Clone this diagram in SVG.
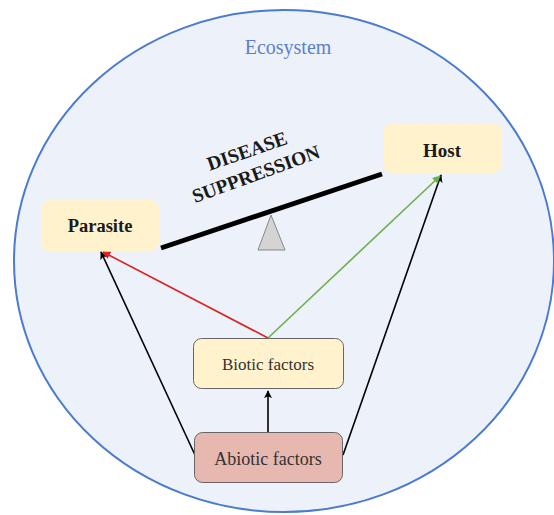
<svg xmlns="http://www.w3.org/2000/svg" width="554" height="515" viewBox="0 0 554 515">
<defs>
<style>
text{font-family:"Liberation Serif","DejaVu Serif",serif;text-anchor:middle;dominant-baseline:central}
.bold{font-weight:bold;fill:#1a1a1a}
.conn{fill:none;stroke-width:1.6}
</style>
<marker id="ab" viewBox="0 0 10 10" refX="9" refY="5" markerWidth="8" markerHeight="8" orient="auto" markerUnits="userSpaceOnUse"><path d="M0,0 L10,5 L0,10 L2.5,5 z" fill="#000"/></marker>
<marker id="ar" viewBox="0 0 10 10" refX="9" refY="5" markerWidth="8" markerHeight="8" orient="auto" markerUnits="userSpaceOnUse"><path d="M0,0 L10,5 L0,10 z" fill="#e02020"/></marker>
<marker id="ag" viewBox="0 0 10 10" refX="9" refY="5" markerWidth="8" markerHeight="8" orient="auto" markerUnits="userSpaceOnUse"><path d="M0,0 L10,5 L0,10 z" fill="#6ab04c"/></marker>
</defs>
<rect width="554" height="515" fill="#fff"/>
<g id="ecosystem">
<ellipse cx="284" cy="261" rx="270" ry="251" fill="#edf2fa" stroke="#4a7bd0" stroke-width="2"/>
<text x="288" y="47" font-size="20" fill="#5b80cc" font-family="Liberation Serif, serif">Ecosystem</text>
</g>
<g id="seesaw">
<line x1="161" y1="248" x2="382" y2="174" stroke="#000" stroke-width="5"/>
<polygon points="271,215 258,250 285,250" fill="#d4d4d4" stroke="#888" stroke-width="1"/>
<text class="bold" x="247" y="151" font-size="19.5" transform="rotate(-19 247 151)" font-family="Liberation Serif, serif">DISEASE</text>
<text class="bold" x="256" y="174" font-size="19.5" transform="rotate(-20 256 174)" font-family="Liberation Serif, serif">SUPPRESSION</text>
</g>
<g id="connectors">
<line class="conn" x1="195" y1="455" x2="101" y2="252" stroke="#000" marker-end="url(#ab)"/>
<line class="conn" x1="343" y1="455" x2="441" y2="175" stroke="#000" marker-end="url(#ab)"/>
<line class="conn" x1="268" y1="338" x2="103" y2="252" stroke="#e02020" marker-end="url(#ar)"/>
<line class="conn" x1="268" y1="338" x2="440" y2="176" stroke="#6ab04c" marker-end="url(#ag)"/>
<line class="conn" x1="268" y1="432" x2="268" y2="391" stroke="#000" stroke-width="2.2" marker-end="url(#ab)"/>
</g>
<g id="parasite">
<rect x="41" y="200" width="118" height="51" rx="9" fill="#fff2cc"/>
<text class="bold" x="100" y="226" font-size="18.5" font-family="Liberation Serif, serif">Parasite</text>
</g>
<g id="host">
<rect x="383" y="123" width="119" height="50" rx="9" fill="#fff2cc"/>
<text class="bold" x="442" y="150" font-size="19" font-family="Liberation Serif, serif">Host</text>
</g>
<g id="biotic">
<rect x="193.5" y="338.5" width="150" height="50" rx="8" fill="#fff2cc" stroke="#666" stroke-width="1"/>
<text x="268" y="364" font-size="17" fill="#333" font-family="Liberation Serif, serif">Biotic factors</text>
</g>
<g id="abiotic">
<rect x="194.5" y="432.5" width="148" height="50" rx="8" fill="#e6b8af" stroke="#666" stroke-width="1"/>
<text x="268" y="459" font-size="18" fill="#333" font-family="Liberation Serif, serif">Abiotic factors</text>
</g>
</svg>
